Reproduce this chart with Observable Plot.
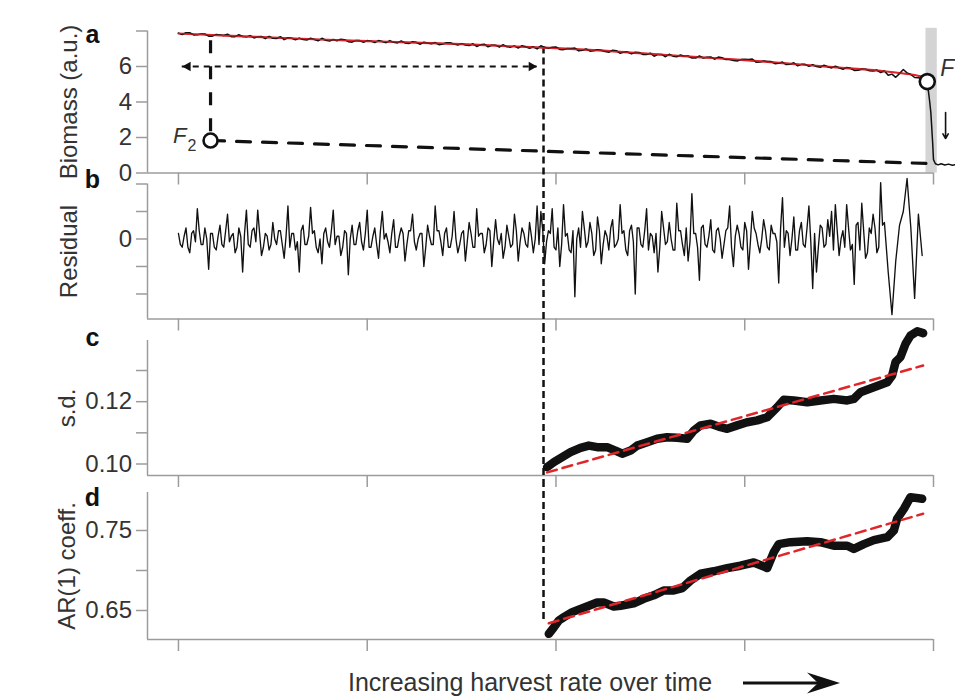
<!DOCTYPE html>
<html>
<head>
<meta charset="utf-8">
<script src="https://cdn.jsdelivr.net/npm/d3@7"></script>
<script src="https://cdn.jsdelivr.net/npm/@observablehq/plot@0.6"></script>
<style>
  html, body { margin: 0; padding: 0; background: #fff; overflow: hidden; }
  #fig { position: relative; width: 955px; height: 700px; font-family: "Liberation Sans", Arial, Helvetica, sans-serif; }
  #fig svg.panel { position: absolute; left: 0; overflow: visible; }
  #caption { position: absolute; left: 348px; top: 667px; font-size: 25px; line-height: 30px; color: #333; white-space: nowrap; }
  #capArrow { position: absolute; left: 740px; top: 670px; overflow: visible; }
</style>
</head>
<body>
<div id="fig">
  <div id="caption">Increasing harvest rate over time</div>
  <svg id="capArrow" width="104" height="26" viewBox="0 0 104 26">
    <line x1="3" y1="13" x2="82" y2="13" stroke="#111" stroke-width="3"/>
    <polygon points="100,13 67,2.5 78,13 67,23.5" fill="#111"/>
  </svg>
</div>
<script>
// ---------- shared x axis ----------
const xDomain = [-0.164, 4];
const xTicks = [0, 1, 2, 3, 4];
const markX = 1.934;            // vertical dashed marker (start of indicator window)

// ---------- panel a : biomass ----------
const biomassStep = 0.04;       // samples at x = k*0.04
const biomass = [
  7.88, 7.90, 7.78, 7.83, 7.71, 7.81, 7.75, 7.68, 7.79, 7.67,
  7.61, 7.69, 7.70, 7.58, 7.51, 7.59, 7.60, 7.49, 7.52, 7.59,
  7.43, 7.45, 7.51, 7.37, 7.46, 7.46, 7.35, 7.41, 7.46, 7.33,
  7.33, 7.40, 7.25, 7.32, 7.35, 7.27, 7.34, 7.21, 7.21, 7.28,
  7.22, 7.11, 7.20, 7.23, 7.09, 7.04, 7.11, 7.11, 7.17, 7.02,
  7.10, 6.95, 7.01, 6.88, 6.99, 6.89, 6.92, 6.80, 6.89, 6.81,
  6.71, 6.79, 6.67, 6.58, 6.68, 6.69, 6.55, 6.58, 6.48, 6.59,
  6.52, 6.41, 6.49, 6.39, 6.31, 6.41, 6.42, 6.25, 6.28, 6.16,
  6.25, 6.12, 6.04, 6.12, 6.10, 5.96, 5.99, 6.02, 5.84, 5.90,
  5.79, 5.85, 5.74, 5.66, 5.51, 5.39, 5.83, 5.55, 5.37, 5.20
];
// samples in between, at x = k*0.04 + 0.02
const biomassMid = [
  7.80, 7.90, 7.79, 7.83, 7.71, 7.78, 7.82, 7.68, 7.69, 7.74,
  7.68, 7.57, 7.59, 7.68, 7.62, 7.51, 7.52, 7.59, 7.45, 7.48,
  7.52, 7.54, 7.40, 7.47, 7.36, 7.43, 7.46, 7.34, 7.36, 7.44,
  7.29, 7.36, 7.37, 7.28, 7.23, 7.34, 7.26, 7.29, 7.18, 7.13,
  7.26, 7.20, 7.09, 7.11, 7.16, 7.17, 7.03, 6.99, 7.08, 7.09,
  6.96, 7.01, 7.04, 6.92, 6.86, 6.94, 6.85, 6.92, 6.74, 6.81,
  6.80, 6.68, 6.75, 6.68, 6.55, 6.58, 6.65, 6.59, 6.48, 6.48,
  6.54, 6.53, 6.39, 6.34, 6.39, 6.40, 6.24, 6.31, 6.28, 6.18,
  6.11, 6.21, 6.12, 6.01, 6.00, 6.07, 5.92, 5.93, 5.95, 5.78,
  5.85, 5.76, 5.80, 5.75, 5.57, 5.60, 5.64, 5.38, 5.31
];
const collapseX = [3.967, 3.972, 3.979, 3.986, 3.995, 4.0, 4.01, 4.025, 4.04, 4.06, 4.08, 4.1, 4.12];
const collapseY = [5.15, 4.70, 4.10, 3.40, 1.80, 0.75, 0.52, 0.46, 0.52, 0.45, 0.50, 0.44, 0.48];
const fitX = [0, 0.25, 0.5, 0.75, 1, 1.25, 1.5, 1.75, 2, 2.25, 2.5, 2.75, 3, 3.25, 3.5, 3.75, 3.9, 3.95];
const fitY = [7.86, 7.74, 7.63, 7.52, 7.43, 7.35, 7.26, 7.14, 7.03, 6.89, 6.71, 6.53, 6.36, 6.15, 5.94, 5.72, 5.52, 5.40];
const f1Point = [3.967, 5.15];
const f2Point = [0.17, 1.83];
const lowerBranchX = [0.17, 3.96];
const lowerBranchY = [1.83, 0.54];
const f2StemY = [7.45, 2.3];
const spanArrowX = [0.02, 1.90];
const spanArrowY = 6.0;
const bandX = [3.96, 4.02];
const bandY = [0, 8.15];
const dropArrowX = 4.064;
const dropArrowY = [3.41, 1.94];
const markTopBiomass = 7.1;
const biomassDomain = [0, 8];
const biomassTicks = [0, 2, 4, 6, 8];
const biomassTickLabels = ["0", "2", "4", "6", ""];

// ---------- panel b : residual ----------
const residStep = 0.02;         // peaks at x = k*0.02
const residual = [
  .02, -.03, .04, -.05, .03, .11, -.02, .04, -.11, .02,
  -.04, .05, -.03, .09, .01, -.05, .04, -.12, .105, -.03,
  .04, .105, -.06, .02, -.04, .06, -.02, .03, -.07, .12,
  .02, -.04, -.12, .05, -.02, .115, .03, -.05, -.09, .04,
  -.03, .105, .01, -.06, .03, -.13, .05, -.02, .06, -.04,
  .105, -.03, .04, -.07, .10, .02, -.05, .07, -.03, .04,
  -.08, .03, .09, -.04, .02, -.10, .05, -.02, .12, .03,
  -.06, .04, -.03, .10, -.05, .02, -.08, .06, -.03, .11,
  .02, -.05, .04, -.10, .07, -.02, -.07, .05, -.03, .09,
  -.08, .04, -.02, .06, -.05, .12, .10, -.09, .03, .11,
  -.04, -.10, .125, .02, -.05, -.21, .04, .10, -.03, .06,
  -.06, .08, -.09, .03, -.04, .07, -.02, .125, .03, -.06,
  .05, -.20, .04, -.03, .11, .02, -.05, -.12, .10, -.02,
  .06, -.04, .13, .03, -.06, -.08, .165, .02, -.15, .05,
  -.03, .07, -.05, .04, -.07, .03, .12, -.10, .05, -.03,
  .06, -.11, .10, .02, -.05, .07, -.03, .05, .02, -.16,
  .15, .03, -.06, .08, -.04, .06, -.03, .12, -.18, -.12,
  .05, -.03, .07, .10, .125, -.06, .03, .125, -.04, -.165,
  .06, .13, -.07, .04, .09, -.05, .205, .06, -.12, -.275,
  -.08, .05, .10, .22, .04, -.216, .09, -.06
];
// small "core" fluctuations in between, at x = k*0.02 + 0.01
const residualCore = [
  -.02, .01, -.03, .02, -.01, .03, -.02, .00, .02, -.03,
  .01, -.02, .03, -.01, .02, -.03, .01, .02, -.02, .03,
  -.01, .02, -.03, .01, -.02, .00, .03, -.02, .01, -.03,
  .02, -.01, .03, -.02, .01, .02, -.03, .00, .02, -.01,
  .03, -.02, .01, -.03, .02, .00, -.02, .03, -.01, .02,
  -.03, .01, -.02, .03, .00, -.01, .02, -.03, .01, .02,
  -.02, .03, -.01, .00, .02, -.03, .01, -.02, .03, -.01,
  .02, -.03, .01, .00, -.02, .03, -.01, .02, -.03, .01,
  .02, -.02, .03, -.01, .00, .02, -.03, .01, -.02, .03,
  -.01, .02, -.03, .01, .00, -.02, .03, -.01, .02, -.03,
  .04, -.02, .01, -.04, .03, .00, -.03, .04, -.01, .02,
  -.04, .03, -.02, .01, .04, -.03, .00, .02, -.04, .03,
  -.01, .04, -.02, .03, -.04, .01, .02, -.03, .04, -.01,
  .00, -.04, .03, -.02, .04, -.01, .02, -.03, .04, -.02,
  .01, -.04, .03, .00, -.02, .04, -.03, .01, .02, -.04,
  .03, -.01, .04, -.02, .00, .03, -.04, .02, -.01, .04,
  -.03, .02, .00, -.04, .03, -.02, .04, -.01, .02, -.03,
  .04, -.02, .01, -.04, .03, .00, -.03, .04, -.02, .05,
  -.04, .03, -.05, .02, .04, -.03, .05
];
const residDomain = [-0.291, 0.2];
const residTicks = [-0.2, -0.1, 0, 0.1, 0.2];
const residTickLabels = ["", "", "0", "", ""];

// ---------- panel c : s.d. ----------
const sdX = [1.953, 1.989, 2.033, 2.077, 2.13, 2.174, 2.218, 2.271, 2.315, 2.351, 2.395, 2.43, 2.483, 2.536, 2.589, 2.642, 2.695, 2.73, 2.766, 2.819, 2.872, 2.907, 2.96, 3.013, 3.066, 3.119, 3.172, 3.207, 3.26, 3.331, 3.401, 3.472, 3.543, 3.578, 3.613, 3.684, 3.755, 3.781, 3.799, 3.825, 3.852, 3.878, 3.914, 3.945];
const sdY = [0.0990, 0.1006, 0.1022, 0.1038, 0.1052, 0.1059, 0.1054, 0.1054, 0.1043, 0.1033, 0.1043, 0.1059, 0.1070, 0.1081, 0.1086, 0.1084, 0.1081, 0.1107, 0.1124, 0.1129, 0.1118, 0.1113, 0.1124, 0.1134, 0.1140, 0.1150, 0.1182, 0.1206, 0.1204, 0.1198, 0.1204, 0.1209, 0.1204, 0.1209, 0.1230, 0.1246, 0.1262, 0.1284, 0.1327, 0.1343, 0.1386, 0.1412, 0.1426, 0.1420];
const sdFitX = [1.953, 3.945];
const sdFitY = [0.0973, 0.1316];
const sdDomain = [0.09631, 0.13963];
const sdTicks = [0.10, 0.11, 0.12, 0.13];
const sdTickLabels = ["0.10", "", "0.12", ""];

// ---------- panel d : AR(1) ----------
const arX = [1.962, 1.989, 2.015, 2.042, 2.086, 2.13, 2.174, 2.218, 2.253, 2.306, 2.342, 2.412, 2.465, 2.518, 2.571, 2.624, 2.669, 2.713, 2.766, 2.836, 2.907, 2.977, 3.048, 3.101, 3.119, 3.154, 3.18, 3.242, 3.331, 3.401, 3.472, 3.543, 3.578, 3.631, 3.684, 3.755, 3.79, 3.807, 3.843, 3.878, 3.94];
const arY = [0.6208, 0.629, 0.6375, 0.6417, 0.648, 0.652, 0.656, 0.660, 0.660, 0.655, 0.656, 0.659, 0.6646, 0.669, 0.675, 0.675, 0.678, 0.6875, 0.696, 0.699, 0.703, 0.706, 0.710, 0.705, 0.703, 0.723, 0.733, 0.7354, 0.7367, 0.7354, 0.731, 0.731, 0.727, 0.733, 0.738, 0.7417, 0.750, 0.7646, 0.777, 0.7917, 0.7896];
const arFitX = [1.962, 3.945];
const arFitY = [0.634, 0.771];
const arDomain = [0.61375, 0.7975];
const arTicks = [0.65, 0.70, 0.75];
const arTickLabels = ["0.65", "", "0.75"];
const markBottomAR = 0.637;

// ---------- styling ----------
const FONT = '"Liberation Sans", Arial, Helvetica, sans-serif';
const INK = "#111";
const TEXT = "#333";
const AXIS = "#9c9c9c";
const RED = "#e0262b";

const pts = (xs, ys) => xs.map((x, i) => ({x, y: ys[i]}));
const stepped = (vals, step, offset) => vals.map((v, i) => ({x: i * step + offset, y: v}));
const byX = (a, b) => a.x - b.x;

const biomassSeries = [...stepped(biomass, biomassStep, 0), ...stepped(biomassMid, biomassStep, biomassStep / 2)].sort(byX);
const residSeries = [...stepped(residual, residStep, 0), ...stepped(residualCore, residStep, residStep / 2)].sort(byX);

function axes(yDomain, ticks, labels) {
  const fmt = d => {
    const k = ticks.findIndex(t => Math.abs(t - d) < 1e-9);
    return k < 0 ? "" : labels[k];
  };
  return [
    Plot.ruleX([xDomain[0]], {stroke: AXIS, strokeWidth: 1.5}),
    Plot.ruleY([yDomain[0]], {stroke: AXIS, strokeWidth: 1.5}),
    Plot.axisY({ticks, tickFormat: fmt, tickSize: 11, tickPadding: 4.5, stroke: AXIS, strokeWidth: 1.5, fill: TEXT, fontSize: 24, label: null}),
    Plot.axisX({ticks: xTicks, tickFormat: () => "", tickSize: 12, stroke: AXIS, strokeWidth: 1.5, label: null})
  ];
}

function labels(letter, letterDy, title, titleDx) {
  return [
    Plot.text([letter], {text: d => d, frameAnchor: "top-left", dx: -55, dy: letterDy, textAnchor: "middle", lineAnchor: "middle", fontWeight: "bold", fontSize: 25, fill: INK}),
    Plot.text([title], {text: d => d, frameAnchor: "left", dx: titleDx, rotate: -90, textAnchor: "middle", lineAnchor: "middle", fontSize: 24, fill: TEXT})
  ];
}

function panel(top, height, marginTop, marginBottom, yDomain, marks) {
  const svg = Plot.plot({
    width: 955, height, marginLeft: 147, marginRight: 22, marginTop, marginBottom,
    x: {domain: xDomain, axis: null},
    y: {domain: yDomain, axis: null},
    style: {fontFamily: FONT, overflow: "visible", background: "transparent", top: top + "px", color: TEXT},
    marks
  });
  svg.classList.add("panel");
  document.getElementById("fig").appendChild(svg);
}

// Panel a
panel(0, 180, 30.5, 7.5, biomassDomain, [
  Plot.rect([0], {x1: bandX[0], x2: bandX[1], y1: bandY[0], y2: bandY[1], fill: "#d4d4d4"}),
  ...axes(biomassDomain, biomassTicks, biomassTickLabels),
  ...labels("a", 3.5, "Biomass (a.u.)", -78),
  Plot.line(pts(lowerBranchX, lowerBranchY), {x: "x", y: "y", stroke: INK, strokeWidth: 3.2, strokeDasharray: "14,12"}),
  Plot.ruleX([f2Point[0]], {y1: f2StemY[0], y2: f2StemY[1], stroke: INK, strokeWidth: 3.2, strokeDasharray: "13,13"}),
  Plot.ruleY([spanArrowY], {x1: spanArrowX[0], x2: spanArrowX[1], stroke: INK, strokeWidth: 2, strokeDasharray: "6,5"}),
  Plot.dot([spanArrowX[0]], {x: d => d, y: () => spanArrowY, symbol: "triangle", r: 3.6, rotate: -90, dx: 5.6, fill: INK, stroke: "none"}),
  Plot.dot([spanArrowX[1]], {x: d => d, y: () => spanArrowY, symbol: "triangle", r: 3.6, rotate: 90, dx: -5.6, fill: INK, stroke: "none"}),
  Plot.ruleX([markX], {y1: markTopBiomass, y2: 0, insetBottom: -7.5, stroke: INK, strokeWidth: 2.5, strokeDasharray: "7,4"}),
  Plot.line(pts(fitX, fitY), {x: "x", y: "y", stroke: RED, strokeWidth: 2.2, curve: "catmull-rom"}),
  Plot.line([...biomassSeries, ...pts(collapseX, collapseY)], {x: "x", y: "y", stroke: INK, strokeWidth: 1.5, strokeLinejoin: "round"}),
  Plot.line(pts(fitX, fitY), {x: "x", y: "y", stroke: RED, strokeWidth: 1.1, strokeOpacity: 0.85, curve: "catmull-rom"}),
  Plot.arrow([0], {x1: dropArrowX, x2: dropArrowX, y1: dropArrowY[0], y2: dropArrowY[1], stroke: INK, strokeWidth: 1.6, headLength: 5}),
  Plot.dot([f2Point], {x: d => d[0], y: d => d[1], r: 7, fill: "white", stroke: INK, strokeWidth: 2.6}),
  Plot.dot([f1Point], {x: d => d[0], y: d => d[1], r: 7.5, fill: "white", stroke: INK, strokeWidth: 2.6}),
  Plot.text([f2Point], {x: d => d[0], y: d => d[1], text: () => "F", dx: -24, dy: -5, textAnchor: "end", lineAnchor: "middle", fontStyle: "italic", fontSize: 22, fill: TEXT}),
  Plot.text([f2Point], {x: d => d[0], y: d => d[1], text: () => "2", dx: -23, dy: 5, textAnchor: "start", lineAnchor: "middle", fontSize: 16, fill: TEXT}),
  Plot.text([f1Point], {x: d => d[0], y: d => d[1], text: () => "F", dx: 13, dy: -13, textAnchor: "start", lineAnchor: "middle", fontStyle: "italic", fontSize: 23, fill: TEXT})
]);

// Panel b
panel(180, 145, 3.5, 6.5, residDomain, [
  ...axes(residDomain, residTicks, residTickLabels),
  ...labels("b", -4, "Residual", -78),
  Plot.ruleX([markX], {insetTop: -3.5, insetBottom: -6.5, stroke: INK, strokeWidth: 2.5, strokeDasharray: "7,4"}),
  Plot.line(residSeries, {x: "x", y: "y", stroke: INK, strokeWidth: 1.35})
]);

// Panel c
panel(325, 155, 15, 5, sdDomain, [
  ...axes(sdDomain, sdTicks, sdTickLabels),
  ...labels("c", -3, "s.d.", -80),
  Plot.ruleX([markX], {insetTop: -15, insetBottom: -5, stroke: INK, strokeWidth: 2.5, strokeDasharray: "7,4"}),
  Plot.line(pts(sdX, sdY), {x: "x", y: "y", stroke: INK, strokeWidth: 8.5, strokeLinecap: "round", strokeLinejoin: "round"}),
  Plot.line(pts(sdFitX, sdFitY), {x: "x", y: "y", stroke: RED, strokeWidth: 2.5, strokeDasharray: "10,6"})
]);

// Panel d
panel(480, 220, 12, 61, arDomain, [
  ...axes(arDomain, arTicks, arTickLabels),
  ...labels("d", 5, "AR(1) coeff.", -80),
  Plot.ruleX([markX], {y1: arDomain[1], y2: markBottomAR, insetTop: -12, stroke: INK, strokeWidth: 2.5, strokeDasharray: "7,4"}),
  Plot.line(pts(arX, arY), {x: "x", y: "y", stroke: INK, strokeWidth: 8.5, strokeLinecap: "round", strokeLinejoin: "round"}),
  Plot.line(pts(arFitX, arFitY), {x: "x", y: "y", stroke: RED, strokeWidth: 2.5, strokeDasharray: "10,6"})
]);
</script>
</body>
</html>
